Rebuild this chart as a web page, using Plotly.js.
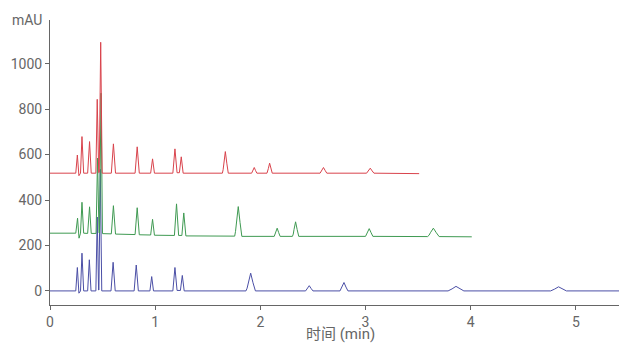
<!DOCTYPE html>
<html>
<head>
<meta charset="utf-8">
<script src="https://cdn.plot.ly/plotly-3.0.1.min.js"></script>
<style>
  html, body { margin: 0; padding: 0; background: #fff; }
  #chart { width: 619px; height: 344px; }
</style>
</head>
<body>
<div id="chart"></div>
<script>
// Retention time (min) and detector response (mAU) for the three stacked runs.
// Narrow peaks are given by foot, apex and tail; wider ones also carry flank points.
const redTime = [0, 0.245, 0.26, 0.275, 0.29, 0.304, 0.32, 0.358, 0.376, 0.392,
  0.436, 0.449, 0.463, 0.468, 0.482, 0.496, 0.583, 0.603, 0.623, 0.809, 0.829, 0.849,
  0.957, 0.975, 0.993, 1.168, 1.188, 1.208, 1.23, 1.248, 1.266,
  1.639, 1.646, 1.653, 1.667, 1.681, 1.688, 1.695,
  1.917, 1.93, 1.942, 1.954, 1.967,
  2.063, 2.069, 2.076, 2.088, 2.1, 2.107, 2.113,
  2.568, 2.584, 2.6, 2.616, 2.632,
  3.01, 3.027, 3.045, 3.063, 3.08, 3.51];
const redValue = [518, 518, 598, 507, 518, 679, 518, 518, 657, 518,
  518, 843, 520, 522, 1094, 518, 518, 647, 518, 518, 634, 518,
  518, 581, 518, 518, 625, 520, 520, 590, 518,
  518, 533, 562, 613, 562, 533, 518,
  518, 530, 543, 530, 518,
  518, 525, 538, 562, 538, 525, 518,
  518, 530, 543, 530, 518,
  518, 528, 540, 528, 518, 516];

const greenTime = [0, 0.245, 0.262, 0.276, 0.29, 0.304, 0.32, 0.358, 0.376, 0.392,
  0.438, 0.452, 0.466, 0.471, 0.485, 0.499, 0.583, 0.603, 0.623, 0.809, 0.829, 0.849,
  0.957, 0.975, 0.993, 1.183, 1.203, 1.223, 1.254, 1.272, 1.292,
  1.756, 1.764, 1.773, 1.79, 1.807, 1.816, 1.824,
  2.132, 2.146, 2.16, 2.174, 2.188,
  2.305, 2.313, 2.32, 2.335, 2.35, 2.358, 2.365,
  3.0, 3.017, 3.035, 3.053, 3.07,
  3.59, 3.604, 3.617, 3.645, 3.673, 3.686, 3.7, 4.01];
const greenValue = [254, 254, 320, 232, 254, 390, 254, 253, 370, 253,
  253, 584, 255, 255, 870, 252, 251, 375, 250, 248, 366, 247,
  246, 315, 245, 244, 383, 244, 244, 343, 242,
  241, 262, 301, 371, 301, 262, 240,
  240, 257, 276, 257, 240,
  240, 250, 270, 304, 270, 250, 240,
  240, 256, 274, 256, 240,
  239, 245, 256, 276, 256, 245, 239, 238];

const blueTime = [0, 0.245, 0.26, 0.275, 0.29, 0.304, 0.32, 0.358, 0.374, 0.39,
  0.436, 0.449, 0.462, 0.465, 0.478, 0.492, 0.58, 0.6, 0.62, 0.8, 0.82, 0.84,
  0.95, 0.967, 0.984, 1.168, 1.188, 1.208, 1.24, 1.258, 1.276,
  1.863, 1.874, 1.886, 1.908, 1.93, 1.942, 1.953,
  2.43, 2.448, 2.465, 2.482, 2.5,
  2.757, 2.776, 2.795, 2.814, 2.833,
  3.785, 3.804, 3.823, 3.86, 3.897, 3.916, 3.935,
  4.76, 4.779, 4.798, 4.835, 4.872, 4.891, 4.91, 5.41];
const blueValue = [0, 0, 103, -10, 0, 166, 0, 0, 137, 0,
  0, 325, 4, 4, 535, 0, 0, 126, 0, 0, 114, 0,
  0, 63, 0, 0, 103, 2, 2, 68, 0,
  0, 12, 36, 78, 36, 12, 0,
  0, 11, 23, 11, 0,
  0, 17, 37, 17, 0,
  0, 3, 9, 20, 9, 3, 0,
  0, 3, 8, 18, 8, 3, 0, 0];

const xTicks = [0, 1, 2, 3, 4, 5];
const yTicks = [0, 200, 400, 600, 800, 1000];

const lineStyle = (color) => ({ color: color, width: 1 });

const traces = [
  { x: blueTime, y: blueValue, type: 'scatter', mode: 'lines', line: lineStyle('#4b4fa6') },
  { x: greenTime, y: greenValue, type: 'scatter', mode: 'lines', line: lineStyle('#3f9a52') },
  { x: redTime, y: redValue, type: 'scatter', mode: 'lines', line: lineStyle('#d9434c') }
];

const fontFamily = 'Roboto, "Noto Sans CJK SC", sans-serif';
const tickFont = { family: fontFamily, size: 14, color: '#666' };
const titleFont = { family: fontFamily, size: 15, color: '#666' };

const layout = {
  width: 619,
  height: 344,
  margin: { l: 50, r: 0, t: 20, b: 39 },
  paper_bgcolor: '#fff',
  plot_bgcolor: '#fff',
  showlegend: false,
  xaxis: {
    range: [0, 5.41],
    tickvals: xTicks,
    ticktext: xTicks.map(String),
    ticks: 'outside', ticklen: 4, tickcolor: '#666',
    showline: true, linecolor: '#666', linewidth: 1,
    showgrid: false, zeroline: false,
    automargin: false,
    tickfont: tickFont
  },
  yaxis: {
    range: [-62, 1192],
    tickvals: yTicks,
    ticktext: yTicks.map(String),
    ticks: 'outside', ticklen: 4, tickcolor: '#666',
    showline: true, linecolor: '#666', linewidth: 1,
    showgrid: false, zeroline: false,
    automargin: false,
    tickfont: tickFont
  },
  annotations: [
    {
      // unit label sitting at the top of the value axis
      text: 'mAU', xref: 'paper', yref: 'paper', x: 0, y: 1,
      xanchor: 'right', yanchor: 'middle', xshift: -6, showarrow: false,
      font: tickFont
    },
    {
      // time axis caption along the bottom edge
      text: '时间 (min)', xref: 'paper', yref: 'paper', x: 0.51, y: -0.137,
      xanchor: 'center', yanchor: 'bottom', borderpad: 0, showarrow: false,
      font: titleFont
    }
  ]
};

Plotly.newPlot('chart', traces, layout, { staticPlot: true, displayModeBar: false });
</script>
</body>
</html>
